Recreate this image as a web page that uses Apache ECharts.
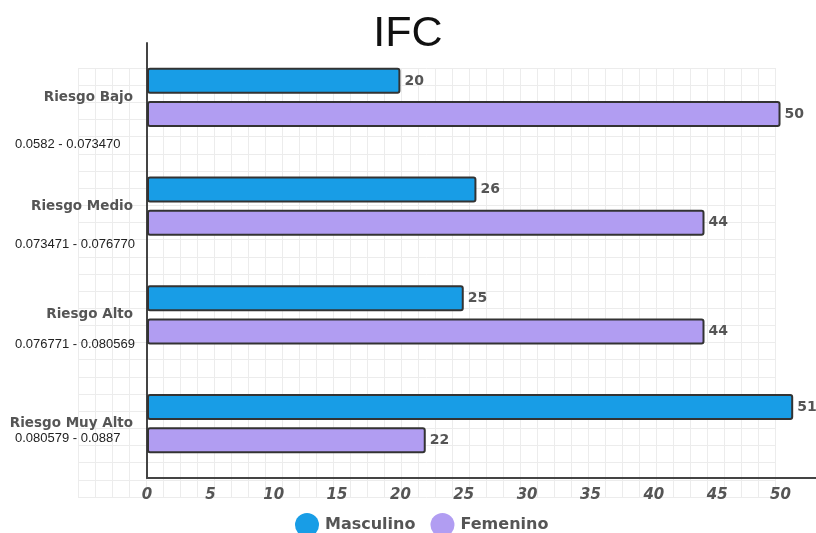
<!DOCTYPE html>
<html>
<head>
<meta charset="utf-8">
<script src="https://cdn.jsdelivr.net/npm/echarts@6/dist/echarts.min.js"></script>
<style>
  html, body { margin: 0; padding: 0; background: #ffffff; }
  #chart { width: 816px; height: 533px; }
</style>
</head>
<body>
<div id="chart"></div>
<script>
// Risk levels of the IFC index, split by sex
const categories = ['Riesgo Bajo', 'Riesgo Medio', 'Riesgo Alto', 'Riesgo Muy Alto'];
const ranges = ['0.0582 - 0.073470', '0.073471 - 0.076770', '0.076771 - 0.080569', '0.080579 - 0.0887'];
const masculino = [20, 26, 25, 51];
const femenino = [50, 44, 44, 22];
const xTicks = [0, 5, 10, 15, 20, 25, 30, 35, 40, 45, 50];

// vertical offset of each range caption below its category label
const rangeOffsets = [47, 38, 30, 15];

const labelGray = '#555555';
const boldFont = 'DejaVu Sans';

const chart = echarts.init(document.getElementById('chart'), null, { renderer: 'canvas' });

const option = {
  backgroundColor: '#ffffff',
  animation: false,
  title: {
    text: 'IFC',
    left: 'center',
    top: 8,
    textStyle: { fontFamily: 'Liberation Sans', fontSize: 43, fontWeight: 'normal', color: '#111111' }
  },
  legend: {
    top: 508,
    left: 290,
    icon: 'circle',
    itemWidth: 26,
    itemHeight: 24,
    itemGap: 15,
    itemStyle: { borderWidth: 0 },
    textStyle: { fontFamily: boldFont, fontWeight: 'bold', fontSize: 16, color: labelGray },
    data: ['Masculino', 'Femenino']
  },
  grid: [
    // graph-paper backdrop
    { left: 78, top: 68, width: 697, height: 429, z: 0 },
    // plot area
    { left: 147, top: 43, right: 0, bottom: 55 }
  ],
  xAxis: [
    {
      gridIndex: 0, type: 'value', min: 0, max: 41, interval: 1,
      axisLine: { show: false }, axisTick: { show: false }, axisLabel: { show: false },
      splitLine: { show: true, lineStyle: { color: '#ececec', width: 1 } }
    },
    {
      gridIndex: 1, type: 'value', min: 0, max: 52.8, interval: 5,
      axisLine: { show: true, lineStyle: { color: '#444444', width: 2 } },
      axisTick: { show: false },
      splitLine: { show: false },
      axisLabel: {
        showMaxLabel: false,
        margin: 10,
        fontFamily: boldFont, fontWeight: 'bold', fontStyle: 'italic', fontSize: 15, color: labelGray,
        formatter: v => (xTicks.indexOf(v) >= 0 ? String(v) : '')
      }
    }
  ],
  yAxis: [
    {
      gridIndex: 0, type: 'value', min: 0, max: 25, interval: 1,
      axisLine: { show: false }, axisTick: { show: false }, axisLabel: { show: false },
      splitLine: { show: true, lineStyle: { color: '#ececec', width: 1 } }
    },
    {
      gridIndex: 1, type: 'category', inverse: true, data: categories,
      axisLine: { show: true, lineStyle: { color: '#444444', width: 2 } },
      axisTick: { show: false },
      axisLabel: { margin: 14, fontFamily: boldFont, fontWeight: 'bold', fontSize: 13.5, color: labelGray }
    }
  ],
  series: [
    {
      name: 'Masculino', type: 'bar', xAxisIndex: 1, yAxisIndex: 1,
      data: masculino, barWidth: 26, barGap: '27%',
      itemStyle: { color: '#189de6', borderColor: '#333333', borderWidth: 2, borderRadius: 2 },
      label: { show: true, position: 'right', distance: 4, fontFamily: boldFont, fontWeight: 'bold', fontSize: 14, color: labelGray }
    },
    {
      name: 'Femenino', type: 'bar', xAxisIndex: 1, yAxisIndex: 1,
      data: femenino, barWidth: 26,
      itemStyle: { color: '#b19df2', borderColor: '#333333', borderWidth: 2, borderRadius: 2 },
      label: { show: true, position: 'right', distance: 4, fontFamily: boldFont, fontWeight: 'bold', fontSize: 14, color: labelGray }
    }
  ]
};

chart.setOption(option);

// range captions placed under each category label
const captions = categories.map((cat, i) => {
  const y = chart.convertToPixel({ yAxisIndex: 1 }, cat);
  return {
    type: 'text',
    x: 15,
    y: y + rangeOffsets[i],
    z: 10,
    style: {
      text: ranges[i],
      fill: '#222222',
      verticalAlign: 'middle',
      font: '13px "Liberation Sans", Arial, sans-serif'
    }
  };
});
chart.setOption({ graphic: captions });
</script>
</body>
</html>
